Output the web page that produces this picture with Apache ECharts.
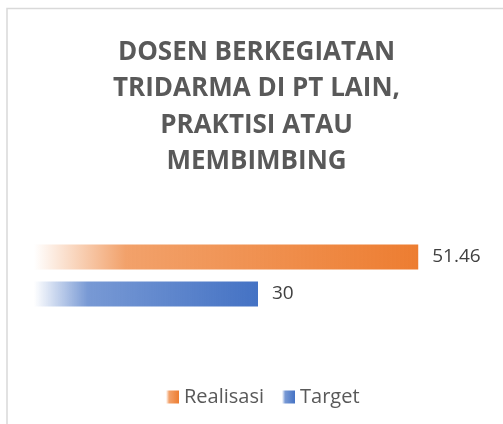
<!DOCTYPE html>
<html>
<head>
<meta charset="utf-8">
<script src="https://cdn.jsdelivr.net/npm/echarts@6/dist/echarts.min.js"></script>
<style>
  html, body { margin: 0; padding: 0; background: #fff; }
  #chart { width: 503px; height: 424px; }
</style>
</head>
<body>
<div id="chart"></div>
<script>
const titleText = 'DOSEN BERKEGIATAN\nTRIDARMA DI PT LAIN,\nPRAKTISI ATAU\nMEMBIMBING';
const categories = ['Dosen'];
const seriesNames = ['Realisasi', 'Target'];
const realisasi = [51.46];
const target = [30];
const seriesColors = [[237, 125, 49], [68, 114, 196]];

// gradient fill, white on the left to full colour on the right
const fade = rgb => new echarts.graphic.LinearGradient(0, 0, 1, 0, [
  { offset: 0, color: `rgba(${rgb.join(',')},0)` },
  { offset: 0.24, color: `rgba(${rgb.join(',')},0.72)` },
  { offset: 1, color: `rgba(${rgb.join(',')},1)` }
]);

const dom = document.getElementById('chart');
const myChart = echarts.init(dom);

const makeSeries = (name, data, rgb) => ({
  name: name,
  type: 'bar',
  data: data,
  barWidth: 25,
  barGap: '48%',
  itemStyle: { color: fade(rgb) },
  label: {
    show: true,
    position: 'right',
    distance: 14,
    color: '#404040',
    fontFamily: 'Open Sans',
    fontSize: 19
  }
});

const option = {
  animation: false,
  title: {
    text: titleText,
    left: 251.5,
    top: 29,
    textAlign: 'center',
    textStyle: {
      fontFamily: 'Open Sans',
      fontWeight: 'bold',
      fontSize: 26,
      lineHeight: 36.5,
      color: '#595959'
    }
  },
  graphic: [{
    type: 'rect',
    shape: { x: 7, y: 8.5, width: 600, height: 600 },
    style: { fill: 'none', stroke: '#d9d9d9', lineWidth: 1.5 },
    silent: true
  }],
  legend: {
    data: seriesNames,
    bottom: 12,
    left: 161,
    icon: 'rect',
    itemWidth: 13,
    itemHeight: 13,
    itemGap: 18,
    textStyle: {
      fontFamily: 'Open Sans',
      fontSize: 20,
      color: '#595959'
    }
  },
  grid: {
    left: 34,
    right: 21,
    top: 215,
    height: 121
  },
  xAxis: {
    type: 'value',
    min: 0,
    max: 60,
    show: false
  },
  yAxis: {
    type: 'category',
    data: categories,
    inverse: true,
    show: false
  },
  series: [
    makeSeries(seriesNames[0], realisasi, seriesColors[0]),
    makeSeries(seriesNames[1], target, seriesColors[1])
  ]
};
myChart.setOption(option);
</script>
</body>
</html>
